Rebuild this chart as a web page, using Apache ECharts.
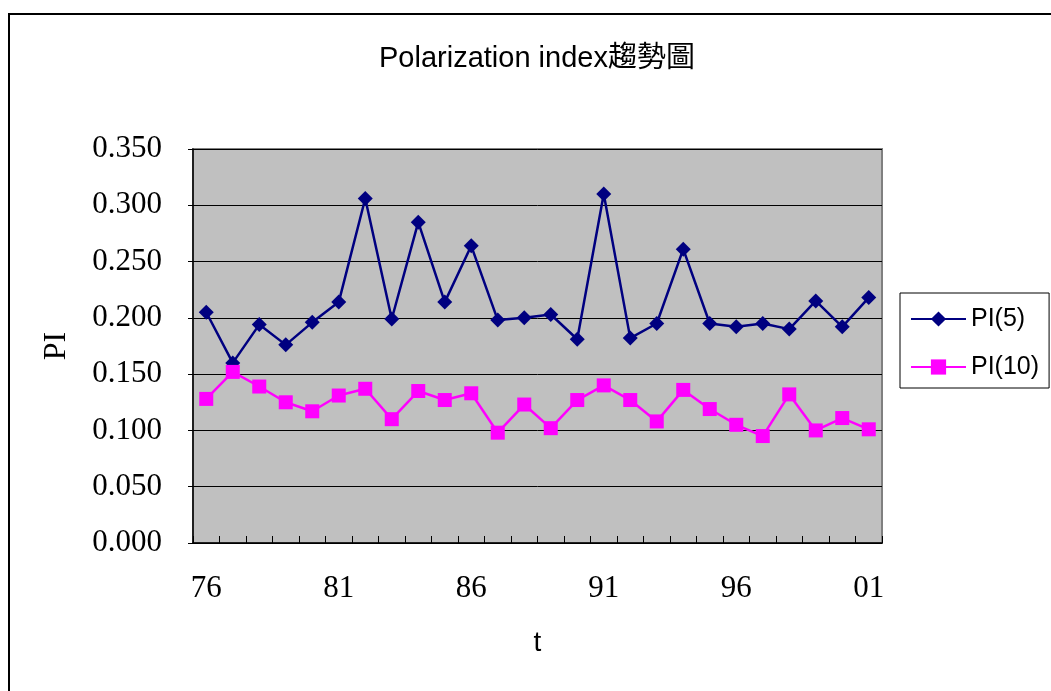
<!DOCTYPE html>
<html>
<head>
<meta charset="utf-8">
<script src="https://cdn.jsdelivr.net/npm/echarts@6/dist/echarts.min.js"></script>
<style>
html,body{margin:0;padding:0;background:#fff;}
#chart{width:1051px;height:691px;}
</style>
</head>
<body>
<div id="chart"></div>
<script>
var categories = ['76','77','78','79','80','81','82','83','84','85','86','87','88','89','90','91','92','93','94','95','96','97','98','99','00','01'];
var pi5 = [0.205,0.160,0.194,0.176,0.196,0.214,0.306,0.199,0.285,0.214,0.264,0.198,0.200,0.203,0.181,0.310,0.182,0.195,0.261,0.195,0.192,0.195,0.190,0.215,0.192,0.218];
var pi10 = [0.128,0.152,0.139,0.125,0.117,0.131,0.137,0.110,0.135,0.127,0.133,0.098,0.123,0.102,0.127,0.140,0.127,0.108,0.136,0.119,0.105,0.095,0.132,0.100,0.111,0.101];
var seriesNames = ['PI(5)','PI(10)'];
var titleText = 'Polarization index趨勢圖';

var serif = '"Liberation Serif", "Times New Roman", serif';
var chart = echarts.init(document.getElementById('chart'), null, {renderer:'canvas'});
chart.setOption({
  animation:false,
  backgroundColor:'#ffffff',
  graphic:[{
    type:'rect', left:8, top:13, z:-10,
    shape:{width:1200, height:900},
    style:{fill:'#ffffff', stroke:'#000000', lineWidth:2}
  }],
  title:{
    text:titleText, left:374, top:39,
    textStyle:{fontFamily:'"Liberation Sans", Arial, "Noto Sans CJK TC", sans-serif', fontSize:29, fontWeight:'normal', color:'#000'}
  },
  legend:{
    orient:'vertical', left:900, top:293,
    data:seriesNames,
    itemWidth:55, itemHeight:19, itemGap:18,
    padding:[11,10,6,10],
    borderColor:'#000', borderWidth:1, backgroundColor:'#fff',
    textStyle:{fontFamily:'"Liberation Sans", Arial, sans-serif', fontSize:25, color:'#000', lineHeight:30}
  },
  grid:{
    left:193, right:169, top:149, bottom:148,
    show:true, backgroundColor:'#C0C0C0', borderColor:'#808080', borderWidth:2
  },
  xAxis:{
    type:'category', data:categories, boundaryGap:true,
    name:'t', nameLocation:'middle', nameGap:86,
    nameTextStyle:{fontFamily:'"Liberation Sans", Arial, sans-serif', fontSize:28, color:'#000'},
    axisLine:{show:true, lineStyle:{color:'#000', width:1.5}},
    axisTick:{show:true, inside:true, length:7, interval:0, lineStyle:{color:'#000'}},
    axisLabel:{interval:4, margin:30, fontFamily:serif, fontSize:31, color:'#000'},
    splitLine:{show:false}
  },
  yAxis:{
    type:'value', min:0, max:0.35, interval:0.05,
    name:'PI', nameLocation:'middle', nameGap:120, nameRotate:90,
    nameTextStyle:{fontFamily:serif, fontSize:32, color:'#000'},
    axisLine:{show:true, lineStyle:{color:'#000', width:1.5}},
    axisTick:{show:true, inside:false, length:5, lineStyle:{color:'#000'}},
    axisLabel:{margin:31, fontFamily:serif, fontSize:31, color:'#000', formatter:function(v){return v.toFixed(3);}},
    splitLine:{show:true, lineStyle:{color:'#000', width:1}}
  },
  series:[
    {name:seriesNames[0], type:'line', data:pi5, symbol:'diamond', symbolSize:15,
     lineStyle:{color:'#000080', width:2.5}, itemStyle:{color:'#000080'}},
    {name:seriesNames[1], type:'line', data:pi10, symbol:'rect', symbolSize:14,
     lineStyle:{color:'#FF00FF', width:2.5}, itemStyle:{color:'#FF00FF'}}
  ]
});
</script>
</body>
</html>
